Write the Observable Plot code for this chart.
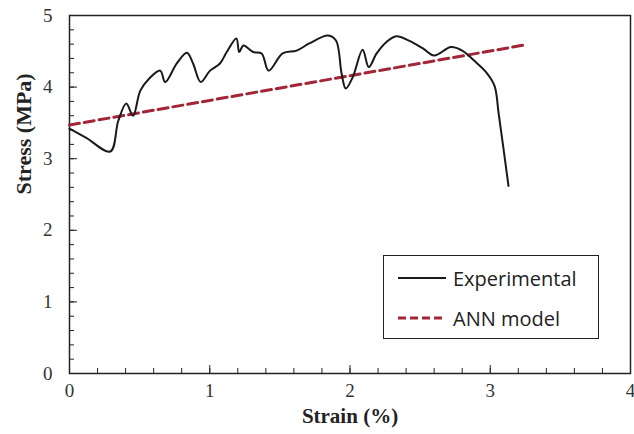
<!DOCTYPE html>
<html>
<head>
<meta charset="utf-8">
<script src="https://cdn.jsdelivr.net/npm/d3@7"></script>
<script src="https://cdn.jsdelivr.net/npm/@observablehq/plot@0.6"></script>
<style>
  html, body { margin: 0; padding: 0; background: #fff; }
  #wrap { position: relative; width: 634px; height: 434px; }
  #legend {
    position: absolute; left: 383px; top: 255px; width: 214px; height: 82px;
    border: 1.5px solid #222; background: #fff;
    font-family: "Open Sans", Lato, sans-serif; font-size: 20px; color: #222;
  }
  #legend .row { position: absolute; left: 0; height: 28px; display: flex; align-items: center; white-space: nowrap; }
  #legend svg { margin-left: 14px; margin-right: 7px; }
</style>
</head>
<body>
<div id="wrap">
  <div id="chart"></div>
  <div id="legend">
    <div class="row" style="top:8px"><svg width="48" height="6"><line x1="0" x2="48" y1="3" y2="3" stroke="#1a1a1a" stroke-width="2"/></svg>Experimental</div>
    <div class="row" style="top:48px"><svg width="48" height="6"><line x1="0" x2="48" y1="3" y2="3" stroke="#a32638" stroke-width="3" stroke-dasharray="8,4"/></svg>ANN model</div>
  </div>
</div>
<script>
// Experimental stress–strain curve
const expStrain = [0, 0.12, 0.291, 0.348, 0.405, 0.453, 0.505, 0.569, 0.647, 0.682, 0.765, 0.837, 0.881, 0.936, 1.002, 1.073, 1.121, 1.19, 1.21, 1.24, 1.31, 1.37, 1.42, 1.52, 1.62, 1.71, 1.843, 1.90, 1.94, 1.97, 2.02, 2.09, 2.134, 2.19, 2.26, 2.33, 2.42, 2.52, 2.60, 2.72, 2.80, 2.885, 2.97, 3.03, 3.06, 3.13];
const expStress = [3.42, 3.29, 3.10, 3.53, 3.77, 3.60, 3.95, 4.12, 4.23, 4.07, 4.33, 4.48, 4.33, 4.07, 4.23, 4.33, 4.49, 4.68, 4.49, 4.58, 4.49, 4.47, 4.23, 4.47, 4.51, 4.61, 4.72, 4.65, 4.19, 3.98, 4.14, 4.52, 4.28, 4.47, 4.63, 4.71, 4.65, 4.54, 4.44, 4.56, 4.51, 4.37, 4.21, 4.02, 3.63, 2.62];

// ANN model prediction
const annStrain = [0, 3.25];
const annStress = [3.47, 4.59];

// Axis ticks
const xTicks = [0, 1, 2, 3, 4];
const yTicks = [0, 1, 2, 3, 4, 5];
const xMinor = d3.range(0, 4.001, 0.2);
const yMinor = d3.range(0, 5.001, 0.2);

const expData = expStrain.map((x, i) => ({x, y: expStress[i]}));
const annData = annStrain.map((x, i) => ({x, y: annStress[i]}));

const serif = "'Liberation Serif', 'DejaVu Serif', serif";

const chart = Plot.plot({
  width: 634,
  height: 434,
  marginLeft: 69,
  marginRight: 4,
  marginTop: 15,
  marginBottom: 61,
  x: {domain: [0, 4]},
  y: {domain: [0, 5]},
  style: {fontFamily: serif, fontSize: "19px", color: "#333", background: "white"},
  marks: [
    // minor and major inward ticks
    Plot.axisX({ticks: xMinor, tickSize: -5, text: null, stroke: "#222", label: null}),
    Plot.axisX({ticks: xTicks, tickSize: -8, text: null, stroke: "#222", label: null}),
    Plot.axisY({ticks: yMinor, tickSize: -5, text: null, stroke: "#222", label: null}),
    Plot.axisY({ticks: yTicks, tickSize: -8, text: null, stroke: "#222", label: null}),
    // tick labels
    Plot.axisX({ticks: xTicks, tickSize: 0, tickPadding: 10, tickFormat: d3.format("d"), fill: "#333", fontSize: 19, label: null}),
    Plot.axisY({ticks: yTicks, tickSize: 0, tickPadding: 17, tickFormat: d3.format("d"), fill: "#333", fontSize: 19, label: null}),
    Plot.frame({stroke: "#222", strokeWidth: 1.5}),
    Plot.line(annData, {x: "x", y: "y", stroke: "#a32638", strokeWidth: 3, strokeDasharray: "10,5"}),
    Plot.line(expData, {x: "x", y: "y", stroke: "#1a1a1a", strokeWidth: 2, curve: "catmull-rom"}),
    // axis titles
    Plot.text(["Strain (%)"], {frameAnchor: "bottom", dy: 49, fontWeight: "bold", fontSize: 21, fill: "#222", fontFamily: serif}),
    Plot.text(["Stress (MPa)"], {frameAnchor: "left", dx: -46, rotate: -90, fontWeight: "bold", fontSize: 22, fill: "#222", fontFamily: serif})
  ]
});
document.getElementById("chart").appendChild(chart);
</script>
</body>
</html>
